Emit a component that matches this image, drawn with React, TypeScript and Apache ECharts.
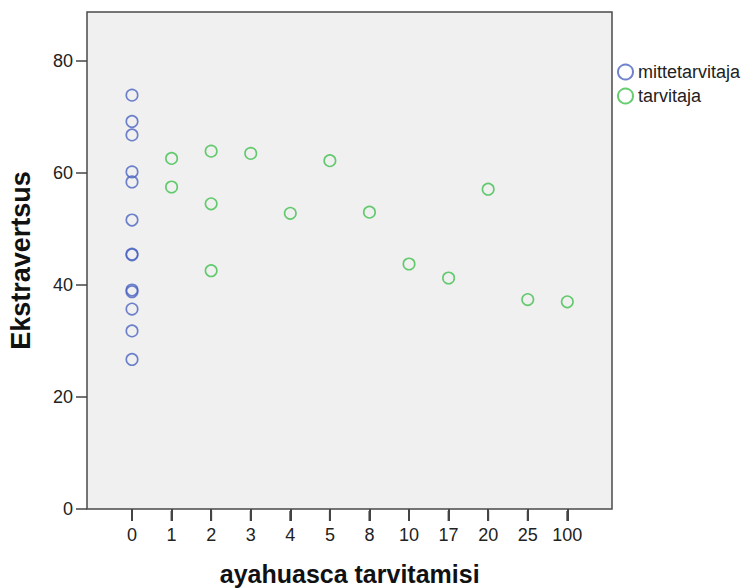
import React, { useEffect, useRef } from "react";
import * as echarts from "echarts";

const xLabels = ["0", "1", "2", "3", "4", "5", "8", "10", "17", "20", "25", "100"];
const yTicks = [0, 20, 40, 60, 80];

const nonUserValues = [73.9, 69.2, 66.8, 60.2, 58.4, 51.6, 45.5, 45.4, 39.1, 38.8, 35.7, 31.8, 26.7];

const userUse = ["1", "1", "2", "2", "2", "3", "4", "5", "8", "10", "17", "20", "25", "100"];
const userValues = [62.6, 57.5, 63.9, 54.5, 42.55, 63.5, 52.8, 62.2, 53.0, 43.75, 41.25, 57.1, 37.4, 37.0];

const seriesNames = ["mittetarvitaja", "tarvitaja"];
const colors = ["#4a63c0", "#3fbf4c"];

export default function App() {
  const ref = useRef<HTMLDivElement>(null);
  useEffect(() => {
    if (!ref.current) return;
    const chart = echarts.init(ref.current, null, { renderer: "svg" });
    const font = "Liberation Sans, Arial, sans-serif";
    const yMax = 88.75;
    const bandW = 39.575;
    const firstX = 132;
    const bandLeft = firstX - bandW / 2;
    const bandWidth = bandW * xLabels.length;
    chart.setOption({
      animation: false,
      backgroundColor: "#ffffff",
      textStyle: { fontFamily: font },
      grid: [
        {
          left: 87,
          top: 12,
          width: 525,
          height: 497,
          show: true,
          containLabel: false,
          outerBoundsMode: "none",
          backgroundColor: "#f0f0f0",
          borderColor: "#4a4a4a",
          borderWidth: 1.5,
        },
        {
          left: bandLeft,
          top: 12,
          width: bandWidth,
          height: 497,
          show: false,
          containLabel: false,
          outerBoundsMode: "none",
        },
      ],
      legend: {
        orient: "vertical",
        left: 612,
        top: 58,
        itemWidth: 15,
        itemHeight: 15,
        itemGap: 6,
        icon: "circle",
        data: seriesNames,
        textStyle: { fontSize: 18, color: "#222", fontFamily: font },
      },
      xAxis: [
        { type: "value", gridIndex: 0, show: false, min: 0, max: 1 },
        {
          type: "category",
          gridIndex: 1,
          data: xLabels,
          boundaryGap: true,
          axisLine: { show: false, onZero: false },
          splitLine: { show: false },
          axisTick: {
            show: true,
            alignWithLabel: true,
            interval: 0,
            length: 12,
            lineStyle: { color: "#444", width: 2 },
          },
          axisLabel: {
            show: true,
            interval: 0,
            fontSize: 18,
            color: "#222",
            margin: 17,
            fontFamily: font,
          },
          name: "ayahuasca tarvitamisi",
          nameLocation: "middle",
          nameGap: 52,
          nameTextStyle: { fontSize: 25, fontWeight: "bold", color: "#111", fontFamily: font },
        },
      ],
      yAxis: [
        {
          type: "value",
          gridIndex: 0,
          min: 0,
          max: yMax,
          axisLine: { show: false, onZero: false },
          splitLine: { show: false },
          axisTick: {
            show: true,
            customValues: yTicks,
            length: 11,
            lineStyle: { color: "#444", width: 1.5 },
          },
          axisLabel: {
            customValues: yTicks,
            fontSize: 18,
            color: "#222",
            margin: 14,
            fontFamily: font,
          },
          name: "Ekstravertsus",
          nameLocation: "middle",
          nameGap: 53,
          nameTextStyle: { fontSize: 27, fontWeight: "bold", color: "#111", fontFamily: font },
        },
        { type: "value", gridIndex: 1, show: false, min: 0, max: yMax },
      ],
      series: [
        {
          name: "axis-ticks",
          type: "custom",
          xAxisIndex: 1,
          yAxisIndex: 1,
          silent: true,
          clip: false,
          z: 10,
          data: xLabels.map((_, i) => [i, 0]),
          renderItem: (_params: any, api: any) => {
            const p = api.coord([api.value(0), 0]);
            return {
              type: "rect",
              shape: { x: p[0] - 1, y: p[1] + 2, width: 2, height: 10 },
              style: { fill: "#444" },
            };
          },
        },
        {
          name: seriesNames[0],
          type: "scatter",
          xAxisIndex: 1,
          yAxisIndex: 1,
          symbol: "circle",
          symbolSize: 11.5,
          itemStyle: { color: "transparent", borderColor: colors[0], borderWidth: 1.6 },
          data: nonUserValues.map((v) => [0, v]),
        },
        {
          name: seriesNames[1],
          type: "scatter",
          xAxisIndex: 1,
          yAxisIndex: 1,
          symbol: "circle",
          symbolSize: 11.5,
          itemStyle: { color: "transparent", borderColor: colors[1], borderWidth: 1.6 },
          data: userValues.map((v, i) => [xLabels.indexOf(userUse[i]), v]),
        },
      ],
    });
    return () => chart.dispose();
  }, []);
  return (
    <div
      ref={ref}
      style={{ position: "fixed", left: 0, top: 0, width: 746, height: 588 }}
    />
  );
}
